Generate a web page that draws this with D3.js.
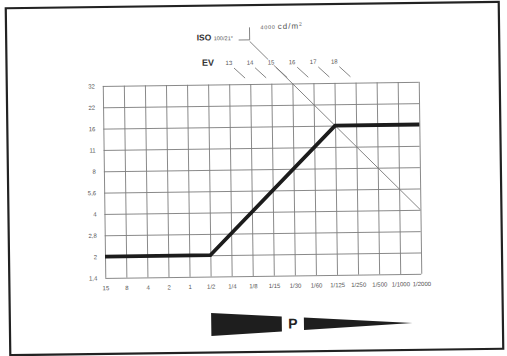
<!DOCTYPE html>
<html>
<head>
<meta charset="utf-8">
<script src="https://cdn.jsdelivr.net/npm/d3@7"></script>
<style>
  html, body { margin: 0; padding: 0; background: #fff; }
  svg { display: block; font-family: "Liberation Sans", Arial, sans-serif; }
  .tick text { fill: #555; font-size: 6px; }
  .grid .tick line { stroke: #7c7c7c; stroke-width: 0.9; }
  .grid .domain { display: none; }
</style>
</head>
<body>
<div id="chart"></div>
<script>

// shutter speeds along the bottom (seconds)
const shutterLabels = ["15", "8", "4", "2", "1", "1/2", "1/4", "1/8", "1/15", "1/30",
    "1/60", "1/125", "1/250", "1/500", "1/1000", "1/2000"];

// apertures up the left side, bottom to top
const apertureLabels = ["1,4", "2", "2,8", "4", "5,6", "8", "11", "16", "22", "32"];

// program line: [shutter, aperture]
const programLine = [["15", "2"], ["1/2", "2"], ["1/125", "16"], ["1/2000", "16"]];

// EV scale, first value sits over the "1/4" column
const evLabels = ["13", "14", "15", "16", "17", "18"];
const evStart = "1/4";

// 4000 cd/m2 limit line, in [shutter step, aperture step] (it starts above the grid)
const limitLine = [[7, 11], [15, 3]];

let margin = {top: 84, left: 104, right: 87, bottom: 80},
    width = 507,
    height = 356;

let svg = d3.select('#chart')
    .append('svg')
    .attr('width', width)
    .attr('height', height);

// the scanned page is a little tilted
let g = svg.append('g')
    .attr('transform', 'rotate(-0.75, 253, 178)');

// frame
g.append('rect')
    .attr('x', 8).attr('y', 5)
    .attr('width', 493).attr('height', 347)
    .attr('fill', 'none')
    .attr('stroke', '#222')
    .attr('stroke-width', 2.2);

let xScale = d3.scaleLinear()
        .domain([0, shutterLabels.length - 1])
        .range([margin.left, width - margin.right]),

    yScale = d3.scaleLinear()
        .domain([0, apertureLabels.length - 1])
        .range([height - margin.bottom, margin.top]),

    sx = s => xScale(shutterLabels.indexOf(s)),
    sy = a => yScale(apertureLabels.indexOf(a));

let gridW = xScale.range()[1] - xScale.range()[0],
    gridH = yScale.range()[0] - yScale.range()[1];

// x grid + labels
g.append('g')
    .classed('grid', true)
    .attr('transform', `translate(0,${yScale(0)})`)
    .call(d3.axisBottom(xScale)
        .tickValues(d3.range(shutterLabels.length))
        .tickFormat(i => shutterLabels[i])
        .tickSizeInner(-gridH)
        .tickSizeOuter(0)
        .tickPadding(8));

// y grid + labels
g.append('g')
    .classed('grid', true)
    .attr('transform', `translate(${xScale(0)},0)`)
    .call(d3.axisLeft(yScale)
        .tickValues(d3.range(apertureLabels.length))
        .tickFormat(i => apertureLabels[i])
        .tickSizeInner(-gridW)
        .tickSizeOuter(0)
        .tickPadding(8));

let line = d3.line();

// limit line
g.append('path')
    .attr('d', line(limitLine.map(d => [xScale(d[0]), yScale(d[1])])))
    .attr('fill', 'none')
    .attr('stroke', '#777')
    .attr('stroke-width', 0.9);

// ISO marker at the start of the limit line
let cx = xScale(limitLine[0][0]), cy = yScale(limitLine[0][1]);
g.append('path')
    .attr('d', `M${cx - 11},${cy - 1.5}L${cx},${cy - 1.5}M${cx},${cy - 1.5}L${cx},${cy - 14}`)
    .attr('fill', 'none')
    .attr('stroke', '#777')
    .attr('stroke-width', 0.9);

g.append('text')
    .attr('x', cx - 53).attr('y', cy - 1.5)
    .attr('fill', '#333')
    .style('font-size', '8.5px')
    .style('font-weight', 'bold')
    .text('ISO');

g.append('text')
    .attr('x', cx - 36).attr('y', cy - 1.5)
    .attr('fill', '#555')
    .style('font-size', '5.6px')
    .text('100/21°');

let lum = g.append('text')
    .attr('x', cx + 11).attr('y', cy - 12)
    .attr('fill', '#555');
lum.append('tspan').style('font-size', '5.5px').style('letter-spacing', '0.7px').text('4000 ');
lum.append('tspan').style('font-size', '8px').style('letter-spacing', '1px').text('cd/m');
lum.append('tspan').style('font-size', '5px').attr('dy', -3).text('2');

// EV scale
let ev0 = shutterLabels.indexOf(evStart);
g.append('text')
    .attr('x', xScale(ev0) - 27).attr('y', yScale(10) + 2.5)
    .attr('fill', '#333')
    .style('font-size', '9px')
    .style('font-weight', 'bold')
    .text('EV');

g.selectAll('.ev-tick')
    .data(evLabels).enter()
    .append('line')
    .classed('ev-tick', true)
    .attr('x1', (d, i) => xScale(ev0 + i + 0.24))
    .attr('y1', yScale(9.76))
    .attr('x2', (d, i) => xScale(ev0 + i + 0.76))
    .attr('y2', yScale(9.28))
    .attr('stroke', '#777')
    .attr('stroke-width', 0.9);

g.selectAll('.ev-label')
    .data(evLabels).enter()
    .append('text')
    .classed('ev-label', true)
    .attr('x', (d, i) => xScale(ev0 + i))
    .attr('y', yScale(10) + 2)
    .attr('text-anchor', 'middle')
    .attr('fill', '#555')
    .attr('stroke', '#fff')
    .attr('stroke-width', 2.5)
    .attr('paint-order', 'stroke')
    .style('font-size', '6px')
    .text(d => d);

// program line
g.append('path')
    .attr('d', line(programLine.map(d => [sx(d[0]), sy(d[1])])))
    .attr('fill', 'none')
    .attr('stroke', '#1c1c1c')
    .attr('stroke-width', 3.8)
    .attr('stroke-linejoin', 'miter');

// P wedge under the chart
let wx0 = xScale(5), wx1 = xScale(8.35), wx2 = xScale(9.4), wTip = xScale(14.55),
    wedgeTop = x => 312.5 + (x - wx0) * 0.062,
    wedgeBot = x => 335.5 - (x - wx0) * 0.052;

g.append('path')
    .attr('d', `M${wx0},${wedgeTop(wx0)}L${wx1},${wedgeTop(wx1)}L${wx1},${wedgeBot(wx1)}L${wx0},${wedgeBot(wx0)}Z`
        + `M${wx2},${wedgeTop(wx2)}L${wTip},${wedgeTop(wTip)}L${wx2},${wedgeBot(wx2)}Z`)
    .attr('fill', '#1e1e1e');

g.append('text')
    .attr('x', (wx1 + wx2) / 2).attr('y', 329)
    .attr('text-anchor', 'middle')
    .attr('fill', '#222')
    .style('font-size', '14px')
    .style('font-weight', 'bold')
    .text('P');

</script>
</body>
</html>
